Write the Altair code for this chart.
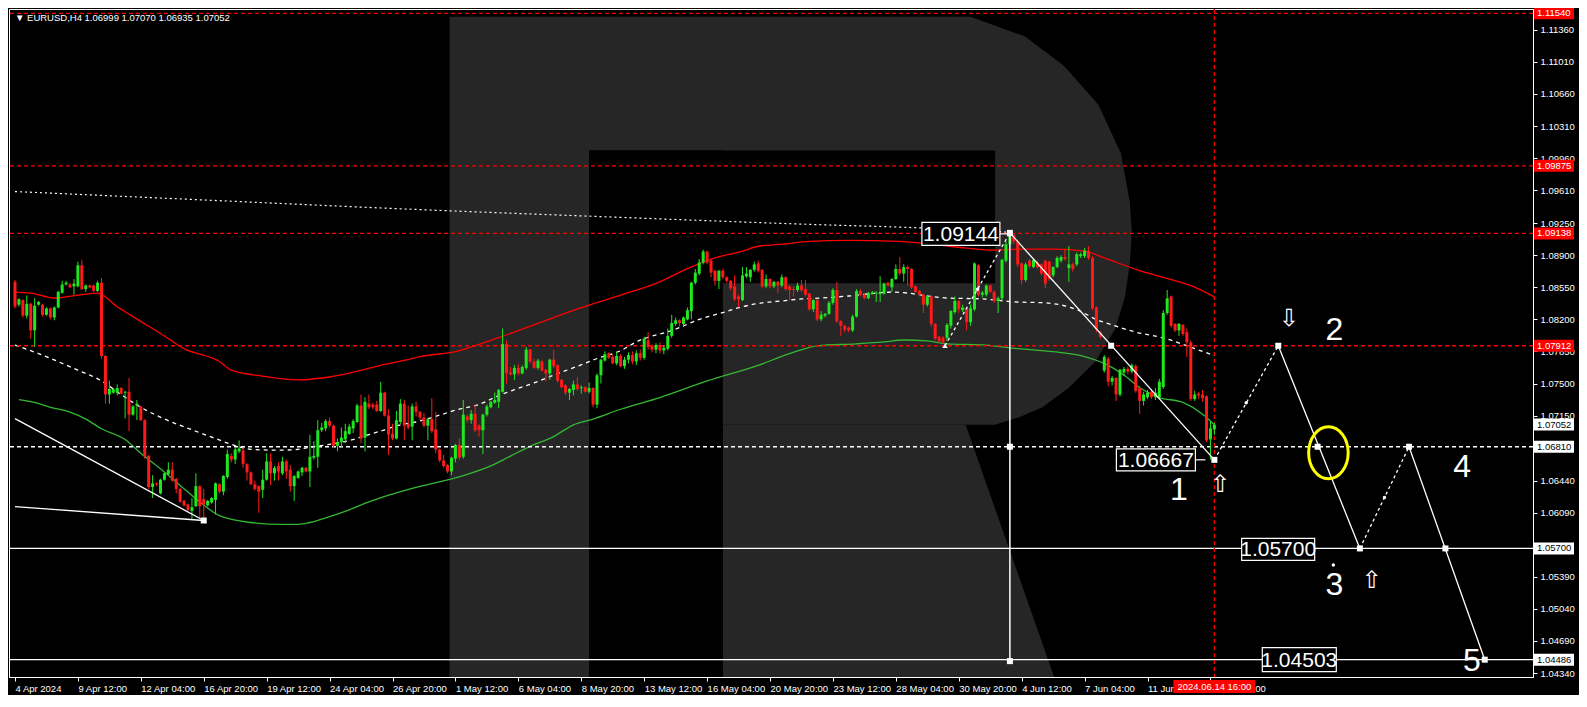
import altair as alt
import pandas as pd

FONT = "Liberation Sans"
W, H = 1524, 668
X_DOMAIN = [-0.25, 384.75]
Y_DOMAIN = [1.04297, 1.11587]
GREEN = "#1fe81f"
RED = "#ff1a1a"
MA_RED = "#ff0000"
MA_GREEN = "#34b834"
LOGO = "#262626"

header_text = "\u25bc EURUSD,H4  1.06999 1.07070 1.06935 1.07052"

price_ticks = [1.11360, 1.11010, 1.10660, 1.10310, 1.09960, 1.09610, 1.09250, 1.08900,
               1.08550, 1.08200, 1.07850, 1.07500, 1.07150, 1.06440, 1.06090,
               1.05390, 1.05040, 1.04690, 1.04340]
time_labels = ["4 Apr 2024", "9 Apr 12:00", "12 Apr 04:00", "16 Apr 20:00", "19 Apr 12:00",
               "24 Apr 04:00", "26 Apr 20:00", "1 May 12:00", "6 May 04:00", "8 May 20:00",
               "13 May 12:00", "16 May 04:00", "20 May 20:00", "23 May 12:00", "28 May 04:00",
               "30 May 20:00", "4 Jun 12:00", "7 Jun 04:00", "11 Jun", "14 Jun 12:00"]

# candles, prices in 1/10000
opens = [
10861,10836,10841,10824,10837,10808,10836,10836,10825,10832,
10822,10833,10849,10858,10858,10856,10856,10879,10853,10857,
10857,10851,10860,10780,10738,10740,10740,10745,10740,10741,
10716,10726,10725,10710,10671,10637,10641,10630,10645,10651,
10656,10646,10635,10622,10618,10611,10616,10638,10624,10617,
10620,10623,10640,10632,10648,10671,10667,10676,10677,10662,
10653,10640,10638,10634,10645,10665,10652,10660,10652,10665,
10656,10638,10647,10653,10658,10654,10669,10670,10699,10701,
10709,10704,10682,10686,10689,10695,10701,10708,10726,10691,
10728,10727,10727,10720,10740,10715,10695,10690,10708,10728,
10706,10703,10725,10719,10713,10704,10711,10700,10678,10666,
10661,10654,10668,10683,10670,10714,10710,10717,10704,10699,
10716,10724,10729,10730,10741,10793,10762,10760,10767,10761,
10767,10787,10774,10767,10774,10765,10761,10776,10770,10754,
10748,10740,10743,10749,10745,10746,10741,10745,10727,10759,
10775,10783,10779,10772,10780,10769,10776,10781,10774,10783,
10778,10797,10791,10787,10792,10786,10788,10802,10815,10819,
10815,10820,10829,10860,10870,10882,10894,10884,10873,10862,
10873,10866,10862,10856,10845,10841,10867,10866,10874,10881,
10874,10856,10864,10856,10861,10857,10866,10856,10853,10852,
10857,10853,10848,10831,10841,10820,10824,10826,10838,10852,
10818,10813,10811,10808,10823,10851,10847,10843,10848,10848,
10848,10848,10860,10855,10864,10875,10870,10877,10875,10856,
10851,10847,10836,10845,10815,10801,10800,10800,10813,10828,
10840,10830,10832,10817,10831,10879,10847,10847,10857,10850,
10840,10843,10884,10902,10912,10905,10881,10863,10884,10877,
10882,10880,10884,10883,10868,10877,10884,10888,10876,10880,
10880,10889,10889,10895,10887,10833,10806,10764,10777,10752,
10756,10738,10762,10766,10763,10769,10745,10731,10735,10741,
10735,10735,10746,10827,10845,10815,10808,10814,10806,10795,
10733,10739,10738,10736,10689,10700]
highs = [
10863,10843,10842,10846,10838,10843,10840,10837,10833,10833,
10834,10851,10862,10862,10860,10864,10883,10885,10858,10858,
10858,10862,10865,10781,10753,10745,10749,10746,10742,10756,
10726,10732,10726,10711,10672,10650,10642,10646,10653,10664,
10664,10647,10636,10623,10619,10625,10652,10639,10635,10623,
10626,10642,10641,10650,10678,10674,10680,10688,10680,10663,
10654,10644,10639,10656,10674,10674,10660,10664,10670,10667,
10661,10650,10655,10659,10659,10694,10687,10710,10707,10711,
10713,10705,10690,10702,10706,10706,10711,10728,10738,10735,
10738,10729,10731,10752,10741,10722,10706,10720,10733,10732,
10726,10728,10730,10720,10718,10713,10734,10719,10679,10672,
10662,10670,10684,10690,10732,10716,10721,10727,10706,10717,
10727,10731,10740,10744,10810,10797,10768,10770,10771,10770,
10790,10788,10777,10777,10776,10766,10777,10787,10771,10755,
10749,10745,10753,10757,10748,10747,10751,10746,10761,10777,
10785,10784,10781,10785,10782,10779,10784,10785,10786,10787,
10801,10806,10793,10794,10795,10792,10810,10825,10822,10820,
10823,10833,10861,10875,10886,10896,10895,10886,10874,10874,
10875,10867,10863,10868,10847,10877,10877,10875,10883,10884,
10875,10869,10865,10862,10862,10869,10867,10857,10856,10860,
10863,10863,10849,10842,10842,10829,10827,10840,10854,10861,
10819,10814,10812,10825,10853,10853,10848,10850,10851,10851,
10867,10860,10861,10865,10880,10888,10880,10879,10876,10857,
10852,10848,10846,10846,10816,10802,10802,10816,10830,10845,
10841,10836,10833,10836,10882,10880,10851,10858,10858,10852,
10845,10886,10905,10914,10913,10907,10882,10882,10886,10886,
10884,10881,10885,10884,10878,10889,10890,10897,10900,10882,
10893,10893,10898,10900,10889,10834,10807,10781,10779,10758,
10757,10766,10768,10768,10772,10771,10747,10741,10743,10744,
10745,10755,10830,10852,10846,10816,10816,10815,10810,10797,
10742,10741,10743,10737,10709,10707]
lows = [
10832,10834,10822,10821,10799,10790,10835,10823,10824,10820,
10819,10832,10848,10857,10854,10847,10855,10852,10850,10854,
10850,10850,10777,10728,10728,10739,10737,10738,10712,10698,
10715,10710,10709,10668,10635,10625,10638,10629,10644,10650,
10643,10630,10620,10616,10611,10602,10615,10603,10603,10616,
10619,10607,10630,10628,10646,10664,10662,10674,10658,10644,
10639,10633,10609,10625,10644,10639,10644,10644,10650,10646,
10632,10622,10646,10649,10653,10637,10667,10658,10697,10698,
10702,10680,10676,10680,10685,10694,10696,10707,10685,10676,
10722,10722,10719,10719,10714,10672,10688,10689,10706,10688,
10700,10688,10714,10710,10702,10688,10696,10674,10664,10658,
10652,10650,10664,10667,10668,10707,10706,10697,10692,10673,
10714,10723,10728,10723,10740,10750,10759,10754,10759,10760,
10765,10772,10766,10765,10763,10752,10754,10767,10751,10745,
10737,10732,10737,10742,10739,10740,10739,10724,10723,10750,
10774,10777,10771,10770,10768,10766,10772,10771,10770,10775,
10776,10787,10784,10783,10783,10782,10786,10800,10813,10812,
10813,10819,10820,10858,10868,10880,10880,10866,10857,10853,
10864,10860,10852,10840,10833,10840,10865,10861,10872,10871,
10854,10854,10854,10854,10849,10855,10851,10841,10845,10850,
10850,10845,10829,10828,10818,10818,10822,10825,10836,10816,
10802,10806,10806,10806,10822,10845,10842,10842,10847,10839,
10839,10847,10856,10850,10863,10868,10861,10857,10853,10849,
10845,10827,10834,10812,10797,10794,10793,10796,10810,10826,
10827,10828,10808,10813,10829,10845,10844,10845,10849,10838,
10827,10841,10882,10900,10902,10877,10858,10861,10876,10876,
10875,10868,10854,10862,10866,10876,10882,10884,10861,10872,
10878,10887,10887,10885,10830,10806,10799,10762,10747,10748,
10731,10736,10758,10760,10761,10740,10717,10726,10733,10733,
10732,10733,10744,10825,10811,10806,10802,10802,10779,10731,
10731,10733,10730,10686,10667,10694]
closes = [
10834,10842,10824,10837,10808,10835,10839,10825,10832,10822,
10833,10850,10858,10860,10855,10859,10879,10853,10857,10855,
10851,10860,10780,10738,10744,10744,10745,10739,10741,10716,
10725,10728,10710,10671,10637,10641,10640,10645,10652,10656,
10644,10635,10621,10617,10612,10615,10638,10616,10618,10622,
10625,10641,10632,10649,10673,10667,10678,10679,10662,10653,
10640,10635,10632,10645,10665,10652,10658,10654,10665,10654,
10638,10649,10654,10658,10654,10670,10671,10699,10702,10709,
10704,10682,10686,10691,10698,10703,10709,10726,10690,10730,
10724,10724,10720,10740,10715,10694,10690,10710,10728,10704,
10702,10725,10719,10713,10704,10711,10698,10678,10666,10660,
10654,10669,10683,10669,10716,10710,10717,10699,10699,10716,
10725,10730,10732,10743,10793,10761,10760,10767,10761,10768,
10787,10774,10767,10775,10764,10761,10776,10769,10753,10746,
10740,10744,10749,10744,10746,10741,10745,10727,10759,10776,
10782,10778,10772,10780,10769,10776,10781,10774,10783,10778,
10799,10790,10787,10792,10786,10789,10802,10816,10819,10816,
10822,10830,10860,10871,10882,10894,10882,10871,10862,10873,
10866,10862,10854,10842,10842,10868,10870,10874,10880,10873,
10856,10864,10856,10861,10857,10866,10853,10852,10852,10857,
10852,10847,10831,10841,10820,10825,10826,10838,10852,10818,
10813,10809,10808,10823,10851,10847,10843,10849,10849,10849,
10849,10859,10857,10864,10875,10870,10877,10875,10855,10850,
10847,10836,10845,10815,10799,10796,10795,10814,10829,10840,
10831,10833,10817,10832,10881,10847,10849,10857,10850,10840,
10843,10885,10902,10912,10905,10880,10863,10880,10878,10885,
10877,10870,10859,10864,10877,10887,10888,10886,10880,10875,
10891,10891,10895,10887,10832,10809,10801,10779,10752,10756,
10738,10765,10766,10763,10770,10742,10731,10738,10740,10735,
10740,10752,10827,10843,10813,10808,10815,10804,10795,10733,
10738,10737,10734,10688,10701,10705]

# moving averages (bar index, price in 1/10000)
red_ma_bar = [0,4,10,16,21,26,32,38,43,52,55,63,72,78,85,92,99,103,112,122,129,137,144,154,
              163,171,178,185,189,195,202,212,225,233,242,249,255,264,272,277,286,293,300,305]
red_ma_val = [10849.7,10848.7,10843.3,10846.5,10848.7,10833.7,10817.8,10801.8,10788,10774,
              10764.5,10758,10753.9,10756,10761.4,10768.8,10775.2,10779.4,10784.7,10798.6,
              10809.3,10822,10832.7,10846.5,10859.3,10875.3,10887,10894.5,10899.8,10902,
              10905.1,10906.2,10905.1,10902,10897.7,10895.5,10896.6,10896.6,10894.5,10887,
              10873.2,10864.6,10855.1,10844.4]
white_ma_bar = [0,6,16,22,27,32,38,45,51,55,60,67,72,75,80,85,90,94,98,102,108,112,118,123,
                127,132,137,143,148,154,158,168,174,180,185,190,195,200,205,212,223,227,232,
                237,246,254,262,270,275,280,285,293,298,305]
white_ma_val = [10792,10782.6,10764.5,10752.8,10737.9,10724,10711.3,10699.5,10689.9,10683.6,
                10678.2,10677.2,10678.2,10680.4,10683.6,10687.8,10694.2,10699.5,10704.9,
                10708.1,10715.5,10720.9,10727.2,10736.8,10743.2,10750.7,10759.2,10768.8,
                10777.3,10785.8,10795.4,10809.3,10819.9,10827.4,10833.8,10838,10840.1,
                10842.3,10843.3,10845.5,10849.7,10848.7,10845.5,10843.3,10842.3,10839.1,
                10838,10830.6,10819.9,10812.5,10806.1,10798.6,10791.1,10780.5]
green_ma_bar = [1,5,9,14,18,22,28,32,37,42,47,52,60,68,72,75,80,85,90,95,102,114,121,126,131,
                137,142,147,154,164,176,189,197,204,214,221,226,232,237,246,255,264,272,277,
                282,286,291,297,302,305]
green_ma_val = [10732.5,10729.3,10724,10718.7,10711.2,10700.6,10688.9,10674,10656.9,10638.8,
                10620.7,10605.8,10598.3,10596.2,10596.2,10598.3,10604.7,10612.2,10620.7,
                10628.1,10636.7,10649.5,10660.1,10670.8,10681.4,10692.1,10704.9,10711.2,
                10721.9,10734.7,10752.8,10769.8,10782.6,10791.1,10793.3,10795.4,10797.5,
                10796.5,10793.3,10792.2,10788,10784.7,10779.4,10771.9,10759.2,10745.3,
                10734.7,10729.3,10716.5,10704.9]
long_ma_bar = [0, 50, 100, 151, 201, 232, 252]
long_ma_val = [10959.5, 10949.9, 10940.3, 10931.8, 10923.8, 10919.5, 10915.1]

# levels
red_levels = [1.11540, 1.09875, 1.09138, 1.07912]
white_dash_levels = [1.06810]
white_levels = [1.05700, 1.04486]
crosshair_bar = [305]
crosshair_label = "2024.06.14 16:00"

# wave drawing
solid_seg = ["f1", "f1", "f2", "f2", "w1", "w1", "w2", "w2", "w3", "w3"]
solid_bar = [0, 48, 0, 48, 253, 305, 321.25, 342, 354.5, 373.75]
solid_price = [1.07116, 1.06005, 1.06157, 1.06005, 1.09144, 1.06667, 1.07912, 1.05700, 1.06810, 1.04486]
dash_seg = ["d1", "d1", "d2", "d2", "d3", "d3"]
dash_bar = [236.5, 253, 305, 321.25, 342, 354.5]
dash_price = [1.07912, 1.09144, 1.06667, 1.07912, 1.05700, 1.06810]
square_bar = [253, 278.75, 305, 321.25, 331.25, 342, 354.5, 363.75, 373.75, 253, 253, 48]
square_price = [1.09144, 1.07912, 1.06667, 1.07912, 1.06810, 1.05700, 1.06810, 1.05700, 1.04486,
                1.06810, 1.04470, 1.06005]
dot_bar = [244.75, 313.1, 348.25, 335.25]
dot_price = [1.08528, 1.07290, 1.06255, 1.05520]
wave_names = ["1", "2", "3", "4", "5"]
wave_bar = [296, 335.5, 335.5, 368, 370.5]
wave_price = [1.06340, 1.08085, 1.05300, 1.06590, 1.04470]
arrow_glyph = ["\u21e7", "\u21e9", "\u21e7"]
arrow_bar = [306.5, 324, 345]
arrow_price = [1.06390, 1.08204, 1.05350]
ring_bar = [334]
ring_price = [1.06745]

# watermark logo outline (bar index / price)
logo_bowl_price = [1.11502, 1.11289, 1.10969, 1.10543, 1.10010, 1.09478, 1.09158, 1.08806,
                   1.08444, 1.08093, 1.07741, 1.07453, 1.07240, 1.07134, 1.07049]
logo_bowl_right = [243, 256.75, 266.75, 275.5, 281.25, 283.5, 284, 283.5, 282.25, 279.75,
                   274.75, 268, 261.25, 255.5, 249.25]

xs = alt.Scale(domain=X_DOMAIN, nice=False, zero=False)
ys = alt.Scale(domain=Y_DOMAIN, nice=False, zero=False)

label_js = "[" + ",".join("'%s'" % s for s in time_labels) + "]"
X_AXIS = alt.Axis(values=list(range(0, 16 * len(time_labels), 16)),
                  labelExpr=label_js + "[round(datum.value / 16)]",
                  labelAlign="left", labelFlush=False, labelOverlap=False, labelPadding=2,
                  labelColor="white", labelFont=FONT, labelFontSize=9.5,
                  tickColor="white", tickSize=4, domainColor="white", grid=False, title=None)
Y_AXIS = alt.Axis(orient="right", values=price_ticks, format=".5f", labelOverlap=False,
                  labelColor="white", labelFont=FONT, labelFontSize=9.5, labelPadding=3,
                  tickColor="white", tickSize=4, domainColor="white", grid=False, title=None)


def ex(f, **kw):
    return alt.X(f"{f}:Q", scale=xs, axis=X_AXIS, **kw)


def ey(f):
    return alt.Y(f"{f}:Q", scale=ys, axis=Y_AXIS)


layers = []

# ---- watermark
bowl_df = pd.DataFrame({"p": logo_bowl_price, "xl": [110.5] * len(logo_bowl_price), "xr": logo_bowl_right})
layers.append(alt.Chart(bowl_df).mark_area(orient="horizontal", color=LOGO).encode(
    y=ey("p"), x=ex("xl", stack=None), x2="xr:Q"))
stem_df = pd.DataFrame({"a": [110.5], "b": [146.0], "p1": [Y_DOMAIN[0]], "p2": [1.07049]})
layers.append(alt.Chart(stem_df).mark_rect(color=LOGO).encode(x=ex("a"), x2="b:Q", y=ey("p1"), y2="p2:Q"))
leg_df = pd.DataFrame({"p": [1.07049, Y_DOMAIN[0]], "xl": [180, 180], "xr": [241.75, 264.25]})
layers.append(alt.Chart(leg_df).mark_area(orient="horizontal", color=LOGO).encode(
    y=ey("p"), x=ex("xl", stack=None), x2="xr:Q"))
cut_df = pd.DataFrame({"a": [146.0, 146.0], "b": [249.25, 180.0],
                       "p1": [1.08593, Y_DOMAIN[0]], "p2": [1.10042, 1.10042]})
layers.append(alt.Chart(cut_df).mark_rect(color="black").encode(x=ex("a"), x2="b:Q", y=ey("p1"), y2="p2:Q"))


# ---- moving averages
def ma_line(bars, vals, **kw):
    df = pd.DataFrame({"i": bars, "p": [v / 1e4 for v in vals]})
    return alt.Chart(df).mark_line(interpolate="monotone", **kw).encode(x=ex("i"), y=ey("p"))


layers.append(ma_line(long_ma_bar, long_ma_val, color="white", strokeDash=[2, 3], strokeWidth=1.2))
layers.append(ma_line(red_ma_bar, red_ma_val, color=MA_RED, strokeWidth=1.3))
layers.append(ma_line(white_ma_bar, white_ma_val, color="white", strokeDash=[4, 4], strokeWidth=1.3))
layers.append(ma_line(green_ma_bar, green_ma_val, color=MA_GREEN, strokeWidth=1.3))

# ---- levels
layers.append(alt.Chart(pd.DataFrame({"p": red_levels})).mark_rule(
    color=MA_RED, strokeDash=[4, 3], strokeWidth=1.3).encode(y=ey("p")))
layers.append(alt.Chart(pd.DataFrame({"p": white_dash_levels})).mark_rule(
    color="white", strokeDash=[4, 3], strokeWidth=1.3).encode(y=ey("p")))
layers.append(alt.Chart(pd.DataFrame({"p": white_levels})).mark_rule(
    color="white", strokeWidth=1.3).encode(y=ey("p")))
layers.append(alt.Chart(pd.DataFrame({"i": crosshair_bar})).mark_rule(
    color=MA_RED, strokeDash=[4, 3], strokeWidth=1.3).encode(x=ex("i")))

# ---- candles
n = len(opens)
cdf = pd.DataFrame({"i": list(range(n)),
                    "o": [v / 1e4 for v in opens], "h": [v / 1e4 for v in highs],
                    "l": [v / 1e4 for v in lows], "c": [v / 1e4 for v in closes]})
cdf["h"] = cdf[["h", "o", "c"]].max(axis=1)
cdf["l"] = cdf[["l", "o", "c"]].min(axis=1)
cdf["dir"] = ["up" if c >= o else "down" for o, c in zip(cdf["o"], cdf["c"])]
ccol = alt.Color("dir:N", scale=alt.Scale(domain=["up", "down"], range=[GREEN, RED]), legend=None)

layers.append(alt.Chart(cdf).mark_rule(strokeWidth=1).encode(
    x=ex("i"), y=ey("l"), y2="h:Q", color=ccol))
layers.append(alt.Chart(cdf).mark_bar(size=3).encode(x=ex("i"), y=ey("o"), y2="c:Q", color=ccol))

# ---- wave drawing
layers.append(alt.Chart(pd.DataFrame({"s": solid_seg, "i": solid_bar, "p": solid_price})).mark_line(
    color="white", strokeWidth=1.3).encode(x=ex("i"), y=ey("p"), detail="s:N"))
layers.append(alt.Chart(pd.DataFrame({"s": dash_seg, "i": dash_bar, "p": dash_price})).mark_line(
    color="white", strokeWidth=1.3, strokeDash=[3, 3]).encode(x=ex("i"), y=ey("p"), detail="s:N"))
layers.append(alt.Chart(pd.DataFrame({"i": [253], "p1": [1.09144], "p2": [1.04470]})).mark_rule(
    color="white", strokeWidth=1.5).encode(x=ex("i"), y=ey("p1"), y2="p2:Q"))
layers.append(alt.Chart(pd.DataFrame({"i": square_bar, "p": square_price})).mark_point(
    shape="square", filled=True, size=36, color="white", opacity=1).encode(x=ex("i"), y=ey("p")))
layers.append(alt.Chart(pd.DataFrame({"i": dot_bar, "p": dot_price})).mark_point(
    shape="circle", filled=True, size=12, color="white", opacity=1).encode(x=ex("i"), y=ey("p")))
layers.append(alt.Chart(pd.DataFrame({"i": [236.5], "p": [1.07912]})).mark_point(
    shape="triangle-up", filled=True, size=30, color="white", opacity=1).encode(x=ex("i"), y=ey("p")))


def boxed(text, bar, price, right_px, width_px, height_px, dy_px, link=None):
    df = pd.DataFrame({"i": [bar], "p": [price], "t": [text]})
    base = alt.Chart(df)
    out = [
        base.mark_rect(fill="black", stroke="white", strokeWidth=1.2,
                       xOffset=right_px - width_px, x2Offset=right_px,
                       yOffset=dy_px - height_px / 2, y2Offset=dy_px + height_px / 2).encode(
            x=ex("i"), x2="i:Q", y=ey("p"), y2="p:Q"),
        base.mark_text(font=FONT, fontSize=21, color="white", align="center", baseline="middle",
                       dx=right_px - width_px / 2, dy=dy_px + 1).encode(x=ex("i"), y=ey("p"), text="t:N"),
    ]
    if link is not None:
        out.append(base.mark_rule(color="white", strokeWidth=1.2, xOffset=link[0], x2Offset=link[1],
                                  yOffset=dy_px, y2Offset=dy_px).encode(
            x=ex("i"), x2="i:Q", y=ey("p"), y2="p:Q"))
    return out


layers += boxed("1.09144", 253, 1.09144, -10, 78, 23, 1, link=(-10, 0))
layers += boxed("1.06667", 305, 1.06667, -19, 79, 22, 0, link=(-19, -9))
layers += boxed("1.05700", 330.5, 1.05700, 0, 73, 22, 1)
layers += boxed("1.04503", 336, 1.04486, 0, 74, 24, 0)

layers.append(alt.Chart(pd.DataFrame({"i": wave_bar, "p": wave_price, "t": wave_names})).mark_text(
    font=FONT, fontSize=32, color="white", align="center", baseline="middle").encode(
    x=ex("i"), y=ey("p"), text="t:N"))
layers.append(alt.Chart(pd.DataFrame({"i": arrow_bar, "p": arrow_price, "t": arrow_glyph})).mark_text(
    font="DejaVu Sans", fontSize=24, color="white", align="center", baseline="middle").encode(
    x=ex("i"), y=ey("p"), text="t:N"))
ELLIPSE = "M -0.76 0 A 0.76 1 0 1 0 0.76 0 A 0.76 1 0 1 0 -0.76 0 Z"
layers.append(alt.Chart(pd.DataFrame({"i": ring_bar, "p": ring_price})).mark_point(
    shape=ELLIPSE, size=2704, filled=False, stroke="#ffff00", strokeWidth=3, opacity=1).encode(
    x=ex("i"), y=ey("p")))


# ---- right-axis price boxes
def price_boxes(prices, fill, txt):
    df = pd.DataFrame({"p": prices, "t": ["%.5f" % v for v in prices]})
    base = alt.Chart(df)
    return [
        base.mark_rect(color=fill, yOffset=-6, y2Offset=6).encode(
            x=alt.value(W + 1), x2=alt.value(W + 41), y=ey("p"), y2="p:Q"),
        base.mark_text(font=FONT, fontSize=9.5, color=txt, align="left", baseline="middle").encode(
            x=alt.value(W + 4), y=ey("p"), text="t:N"),
    ]


layers += price_boxes([1.11540, 1.09875, 1.09138, 1.07912], "#ff0000", "white")
layers += price_boxes([1.07052, 1.06810, 1.05700, 1.04486], "white", "black")

# ---- crosshair time label
ch = alt.Chart(pd.DataFrame({"i": crosshair_bar, "t": [crosshair_label]}))
layers.append(ch.mark_rect(color="#ff0000", xOffset=-41, x2Offset=41).encode(
    x=ex("i"), x2="i:Q", y=alt.value(H + 3), y2=alt.value(H + 16)))
layers.append(ch.mark_text(font=FONT, fontSize=9.5, color="white", align="center", baseline="middle").encode(
    x=ex("i"), y=alt.value(H + 9.5), text="t:N"))

# ---- header
layers.append(alt.Chart(pd.DataFrame({"t": [header_text]})).mark_text(
    font=FONT, fontSize=9.5, color="white", align="left", baseline="middle").encode(
    x=alt.value(6), y=alt.value(9), text="t:N"))

chart = alt.layer(*layers).properties(
    width=W, height=H, background="black",
    padding={"left": 1, "top": 1, "right": 46, "bottom": 18},
    autosize=alt.AutoSizeParams(type="none"),
).configure_view(stroke="white", strokeWidth=1)

chart.save("out.html", embed_options={"renderer": "svg", "actions": False})
